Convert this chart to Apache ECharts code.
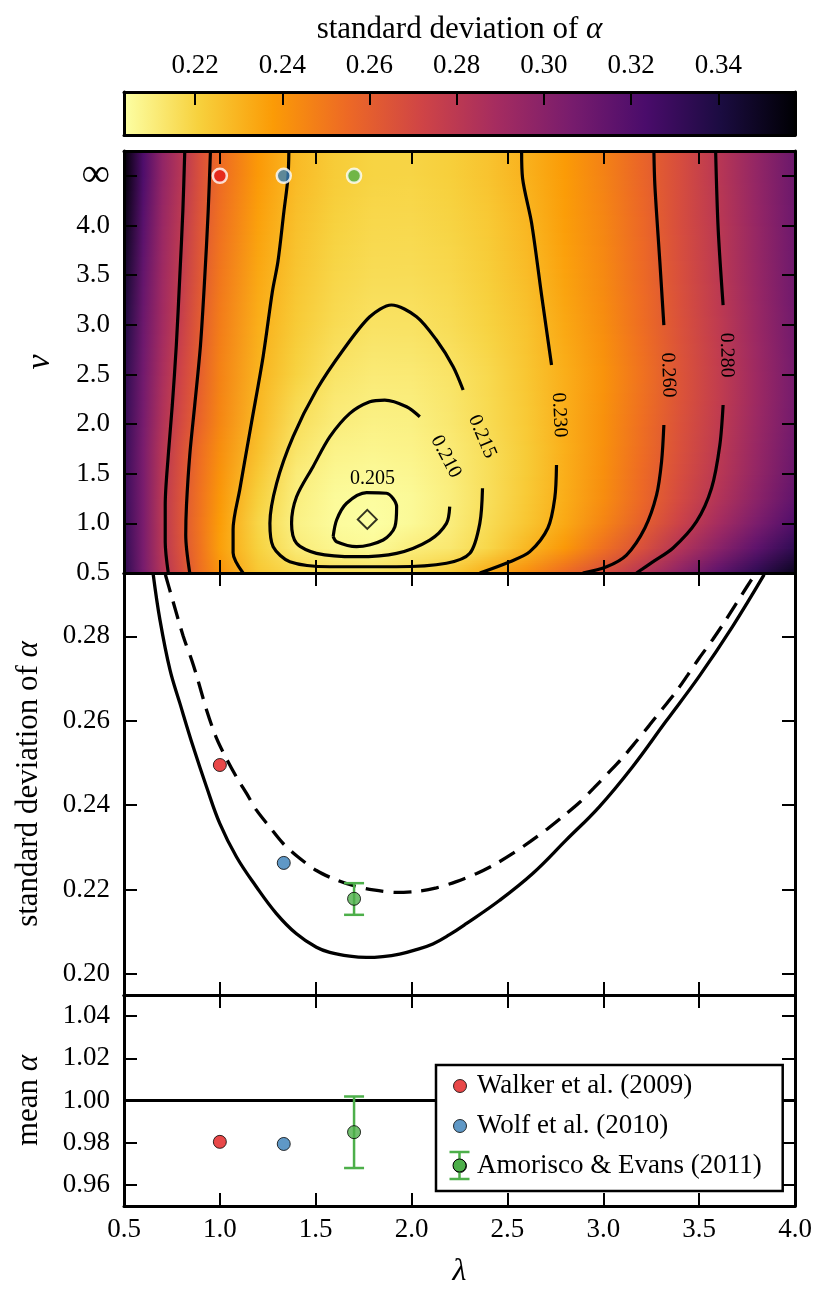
<!DOCTYPE html>
<html>
<head>
<meta charset="utf-8">
<title>standard deviation of alpha</title>
<script src="https://cdn.jsdelivr.net/npm/echarts@6.0.0/dist/echarts.min.js"></script>
<style>
    html, body { margin: 0; padding: 0; background: #fff; }
    #chart { width: 829px; height: 1306px; }
</style>
</head>
<body>
<div id="chart"></div>
<script>
var FONT = '"Liberation Serif", "DejaVu Serif", serif';

//colour scale of the map
var cbMin = 0.2037, cbMax = 0.3576;
var cbTicks = [0.22, 0.24, 0.26, 0.28, 0.30, 0.32, 0.34];

//map grid: lambda columns, nu rows (nu = 4.5 is the infinity row)
var lamNodes = [0.5, 0.6, 0.7, 0.8, 0.9, 1.0, 1.2, 1.4, 1.6, 1.8, 2.0, 2.2, 2.4, 2.6, 2.8, 3.0, 3.2, 3.4, 3.6, 3.8, 4.0];
var nuRows = [0.5, 0.75, 1.0, 1.25, 1.5, 1.75, 2.0, 2.25, 2.5, 3.0, 3.5, 4.0, 4.5];
var nuTicks = [0.5, 1.0, 1.5, 2.0, 2.5, 3.0, 3.5, 4.0, 4.5];

var sdNu050 = [0.334, 0.307, 0.2835, 0.268, 0.2525, 0.241, 0.224, 0.218, 0.216, 0.2154, 0.2172, 0.2225, 0.2325, 0.2422, 0.2545, 0.267, 0.2818, 0.2985, 0.316, 0.333, 0.350];
var sdNu075 = [0.332, 0.306, 0.282, 0.2655, 0.2512, 0.2365, 0.2205, 0.211, 0.2072, 0.2058, 0.2103, 0.2125, 0.2188, 0.229, 0.239, 0.2525, 0.2665, 0.2835, 0.2995, 0.316, 0.333];
var sdNu100 = [0.331, 0.306, 0.281, 0.2645, 0.2505, 0.2375, 0.219, 0.2088, 0.205, 0.2038, 0.2058, 0.2103, 0.2168, 0.2243, 0.2335, 0.2455, 0.259, 0.2738, 0.289, 0.305, 0.321];
var sdNu125 = [0.330, 0.306, 0.281, 0.265, 0.2515, 0.2392, 0.221, 0.21, 0.2054, 0.2046, 0.2058, 0.21, 0.2158, 0.2232, 0.2322, 0.2428, 0.2555, 0.2695, 0.2835, 0.299, 0.315];
var sdNu150 = [0.330, 0.306, 0.2815, 0.266, 0.2525, 0.2408, 0.2235, 0.211, 0.2068, 0.2058, 0.207, 0.2104, 0.216, 0.2228, 0.2318, 0.242, 0.2547, 0.2677, 0.2809, 0.296, 0.312];
var sdNu175 = [0.331, 0.306, 0.2825, 0.267, 0.2535, 0.2425, 0.2263, 0.2137, 0.2085, 0.2075, 0.2083, 0.2114, 0.2162, 0.2228, 0.2317, 0.2415, 0.2535, 0.2665, 0.2794, 0.2943, 0.310];
var sdNu200 = [0.332, 0.307, 0.2845, 0.2695, 0.2565, 0.245, 0.2282, 0.2158, 0.2106, 0.2088, 0.2092, 0.2125, 0.2172, 0.2232, 0.2318, 0.2413, 0.2531, 0.2659, 0.2783, 0.2931, 0.3085];
var sdNu225 = [0.333, 0.308, 0.286, 0.2708, 0.2578, 0.2458, 0.2292, 0.2178, 0.212, 0.2101, 0.2104, 0.2132, 0.2176, 0.2236, 0.2318, 0.2409, 0.2522, 0.2649, 0.2774, 0.2922, 0.3075];
var sdNu250 = [0.335, 0.309, 0.2875, 0.272, 0.259, 0.2465, 0.2303, 0.2202, 0.2138, 0.2114, 0.2117, 0.214, 0.218, 0.2243, 0.2318, 0.2405, 0.2518, 0.2645, 0.2772, 0.292, 0.3075];
var sdNu300 = [0.340, 0.311, 0.2905, 0.2755, 0.2605, 0.2485, 0.2318, 0.2228, 0.2172, 0.2145, 0.2146, 0.2167, 0.2203, 0.2254, 0.2339, 0.2426, 0.2535, 0.266, 0.2787, 0.2935, 0.3087];
var sdNu350 = [0.346, 0.314, 0.292, 0.2775, 0.2625, 0.2505, 0.2338, 0.2245, 0.219, 0.2167, 0.2166, 0.2183, 0.2218, 0.2274, 0.2357, 0.244, 0.2546, 0.267, 0.2798, 0.2946, 0.3098];
var sdNu400 = [0.352, 0.318, 0.294, 0.2795, 0.264, 0.2525, 0.236, 0.2262, 0.2205, 0.2182, 0.218, 0.2197, 0.2233, 0.2291, 0.237, 0.245, 0.2555, 0.2679, 0.2803, 0.2951, 0.3103];
var sdNuInf = [0.357, 0.322, 0.2968, 0.2818, 0.266, 0.2546, 0.2385, 0.228, 0.2224, 0.2198, 0.2195, 0.2214, 0.2252, 0.2308, 0.2378, 0.2463, 0.2567, 0.2681, 0.2812, 0.296, 0.311];
var sdRows = [sdNu050, sdNu075, sdNu100, sdNu125, sdNu150, sdNu175, sdNu200, sdNu225, sdNu250, sdNu300, sdNu350, sdNu400, sdNuInf];

//contour lines [lambda, nu]
var c280L = [[0.817, 4.75], [0.807, 4.15], [0.791, 3.485], [0.773, 2.796], [0.752, 2.192], [0.731, 1.688], [0.715, 1.185], [0.715, 0.812], [0.731, 0.5]];
var c260L = [[0.951, 4.75], [0.939, 4.138], [0.921, 3.471], [0.899, 2.796], [0.869, 2.192], [0.843, 1.688], [0.826, 1.185], [0.822, 0.883], [0.843, 0.5]];
var c230L = [[1.360, 4.75], [1.355, 4.478], [1.334, 4.14], [1.303, 3.637], [1.274, 3.335], [1.226, 2.684], [1.165, 2.013], [1.104, 1.342], [1.069, 0.939], [1.069, 0.704], [1.121, 0.5]];
var c215 = [[2.269, 2.343], [2.217, 2.578], [2.130, 2.846], [2.026, 3.081], [1.895, 3.199], [1.782, 3.081], [1.643, 2.746], [1.504, 2.343], [1.382, 1.873], [1.296, 1.403], [1.261, 1.0], [1.278, 0.765], [1.365, 0.614], [1.574, 0.563], [1.921, 0.563], [2.182, 0.598], [2.304, 0.698], [2.356, 1.0], [2.37, 1.353]];
var c210 = [[2.043, 2.074], [1.974, 2.175], [1.860, 2.242], [1.782, 2.225], [1.678, 2.108], [1.574, 1.873], [1.486, 1.571], [1.400, 1.268], [1.374, 1.0], [1.400, 0.799], [1.504, 0.698], [1.713, 0.664], [1.922, 0.698], [2.095, 0.832], [2.182, 1.0], [2.199, 1.168]];
var c205 = [[1.591, 0.866], [1.609, 1.034], [1.661, 1.202], [1.765, 1.309], [1.869, 1.303], [1.922, 1.168], [1.913, 0.966], [1.852, 0.832], [1.713, 0.765], [1.609, 0.815], [1.591, 0.866]];
var c230Rtop = [[2.574, 4.75], [2.579, 4.475], [2.626, 4.025], [2.678, 3.30], [2.730, 2.595]];
var c230Rbot = [[2.756, 1.588], [2.747, 1.255], [2.711, 0.953], [2.617, 0.715], [2.513, 0.614], [2.356, 0.5]];
var c260Rtop = [[3.264, 4.75], [3.269, 4.407], [3.295, 3.635], [3.316, 2.997]];
var c260Rbot = [[3.316, 1.990], [3.304, 1.621], [3.278, 1.286], [3.217, 0.953], [3.121, 0.681], [3.017, 0.563], [2.893, 0.5]];
var c280Rtop = [[3.586, 4.75], [3.599, 3.974], [3.625, 3.198]];
var c280Rbot = [[3.625, 2.192], [3.608, 1.789], [3.565, 1.356], [3.486, 1.017], [3.364, 0.752], [3.26, 0.614], [3.173, 0.5]];

var contourLabelText = ['0.205', '0.210', '0.215', '0.230', '0.260', '0.280'];
var contourLabelPos = [[1.796, 1.454], [2.179, 1.671], [2.368, 1.873], [2.77, 2.091], [3.338, 2.494], [3.643, 2.695]];
var contourLabelRot = [0, -62, -67, -87, -88, -89];

var bestFit = [1.769, 1.04];

//middle panel curves [lambda, sd]
var sdMinCurve = [[0.6526, 0.2946], [0.6875, 0.2839], [0.7396, 0.2721], [0.7917, 0.2641], [0.8609, 0.2538], [0.9307, 0.2443], [1.0, 0.2356], [1.087, 0.2277], [1.191, 0.2206], [1.295, 0.2143], [1.3995, 0.2095], [1.5036, 0.2063], [1.573, 0.2051], [1.677, 0.2042], [1.764, 0.2039], [1.85, 0.2041], [1.9375, 0.2047], [2.02, 0.2057], [2.111, 0.2071], [2.198, 0.2093], [2.285, 0.2119], [2.458, 0.2174], [2.632, 0.2238], [2.806, 0.2317], [2.979, 0.2396], [3.153, 0.2491], [3.326, 0.2598], [3.5, 0.2705], [3.674, 0.2823], [3.839, 0.2946]];
var sdInfCurve = [[0.716, 0.2946], [0.748, 0.2895], [0.809, 0.2800], [0.853, 0.2744], [0.88, 0.2705], [0.931, 0.2625], [0.983, 0.2558], [1.04, 0.2505], [1.09, 0.2464], [1.14, 0.2427], [1.191, 0.2388], [1.26, 0.2348], [1.33, 0.2309], [1.408, 0.2277], [1.504, 0.2245], [1.59, 0.2226], [1.69, 0.2210], [1.80, 0.2199], [1.92, 0.2193], [2.04, 0.2196], [2.13, 0.2204], [2.23, 0.2218], [2.34, 0.2238], [2.44, 0.2261], [2.53, 0.2286], [2.62, 0.2314], [2.71, 0.2344], [2.80, 0.2377], [2.88, 0.2408], [2.95, 0.2440], [3.03, 0.2478], [3.10, 0.2512], [3.17, 0.2550], [3.24, 0.2589], [3.31, 0.2629], [3.38, 0.2669], [3.44, 0.2708], [3.50, 0.2748], [3.57, 0.2792], [3.63, 0.2832], [3.69, 0.2875], [3.75, 0.2918], [3.79, 0.2946]];

//literature estimates
var refNames = ['Walker et al. (2009)', 'Wolf et al. (2010)', 'Amorisco & Evans (2011)'];
var refColors = ['#e41a1c', '#377eb8', '#4daf4a'];
var refLam = [1.0, 1.3333, 1.7];
var refSd = [0.2495, 0.2263, 0.2178];
var refMean = [0.9804, 0.9794, 0.9850];
var aeSdErr = [0.2140, 0.2215];
var aeMeanErr = [0.9680, 1.0019];
var nuInf = 4.5;
var meanRef = [[0.5, 1.0], [4.0, 1.0]];

var sdTicks = [0.20, 0.22, 0.24, 0.26, 0.28];
var meanTicks = [0.96, 0.98, 1.00, 1.02, 1.04];

//inferno colour map, reversed (low = light yellow)
var inferno = ['#000004', '#1b0c41', '#4a0c6b', '#781c6d', '#a52c60', '#cf4446', '#ed6925', '#fb9b06', '#f7d13d', '#fcffa4'];

function hexRgb(h) {
    return [parseInt(h.substr(1, 2), 16), parseInt(h.substr(3, 2), 16), parseInt(h.substr(5, 2), 16)];
}

function sdRgb(v) {
    var t = Math.max(0, Math.min(1, (v - cbMin) / (cbMax - cbMin)));
    var u = (1 - t) * (inferno.length - 1);
    var k = Math.min(Math.floor(u), inferno.length - 2);
    var f = u - k;
    var a = hexRgb(inferno[k]), b = hexRgb(inferno[k + 1]);
    return [0, 1, 2].map(function (i) { return a[i] + (b[i] - a[i]) * f; });
}

//shade between two colours (w = 0 gives a, w = 1 gives b)
function mixRgb(a, b, w) {
    var c = [0, 1, 2].map(function (i) { return Math.round(a[i] + (b[i] - a[i]) * w); });
    return 'rgb(' + c.join(',') + ')';
}

var lamMin = 0.5, lamMax = 4.0, nuMin = 0.5, nuMax = 4.75;

//axes: every panel has a frame with inward ticks on all four sides
var tickBase = { show: true, inside: true, length: 13, lineStyle: { color: '#000', width: 2 } };
var lineBase = { show: true, onZero: false, lineStyle: { color: '#000', width: 3 } };
var labelBase = { show: true, color: '#000', fontFamily: FONT, fontSize: 27 };

function axis(grid, pos, min, max, o) {
    o = o || {};
    var ax = {
        type: 'value', gridIndex: grid, position: pos, min: min, max: max, z: 10,
        axisLine: lineBase,
        axisTick: o.noTick ? { show: false } : Object.assign({}, tickBase, o.ticks ? { customValues: o.ticks } : {}),
        axisLabel: { show: false },
        splitLine: { show: false }
    };
    if (o.interval) ax.interval = o.interval;
    if (o.label) ax.axisLabel = Object.assign({}, labelBase, o.label, o.ticks ? { customValues: o.ticks } : {});
    if (o.name) {
        ax.name = o.name;
        ax.nameLocation = 'middle';
        ax.nameGap = o.nameGap;
        var size = o.nameSize || 31;
        ax.nameTextStyle = {
            color: '#000', fontFamily: FONT, fontSize: size, fontStyle: o.nameItalic ? 'italic' : 'normal',
            rich: { a: { color: '#000', fontFamily: FONT, fontSize: size, fontStyle: 'italic' } }
        };
    }
    return ax;
}

var fmt1 = function (v) { return v.toFixed(1); };
var fmt2 = function (v) { return v.toFixed(2); };

var xAxes = [
    axis(0, 'top', cbMin, cbMax, { ticks: cbTicks, label: { formatter: fmt2, margin: 13 }, name: 'standard deviation of {a|α}', nameGap: 47 }),
    axis(0, 'bottom', cbMin, cbMax, { noTick: true }),
    axis(1, 'bottom', lamMin, lamMax, { interval: 0.5 }),
    axis(1, 'top', lamMin, lamMax, { interval: 0.5 }),
    axis(2, 'bottom', lamMin, lamMax, { interval: 0.5 }),
    axis(2, 'top', lamMin, lamMax, { interval: 0.5 }),
    axis(3, 'bottom', lamMin, lamMax, { interval: 0.5, label: { formatter: fmt1, margin: 10 }, name: 'λ', nameItalic: true, nameGap: 50, nameSize: 32 }),
    axis(3, 'top', lamMin, lamMax, { interval: 0.5 })
];

var yAxes = [
    axis(0, 'left', 0, 1, { noTick: true }),
    axis(0, 'right', 0, 1, { noTick: true }),
    axis(1, 'left', nuMin, nuMax, {
        ticks: nuTicks, name: 'ν', nameItalic: true, nameGap: 67, nameSize: 34,
        label: {
            margin: 14,
            formatter: function (v) { return v === nuInf ? '{inf|∞}' : v.toFixed(1); },
            rich: { inf: { fontFamily: FONT, fontSize: 40, color: '#000' } }
        }
    }),
    axis(1, 'right', nuMin, nuMax, { ticks: nuTicks }),
    axis(2, 'left', 0.195, 0.295, { ticks: sdTicks, label: { formatter: fmt2, margin: 14 }, name: 'standard deviation of {a|α}', nameGap: 80 }),
    axis(2, 'right', 0.195, 0.295, { ticks: sdTicks }),
    axis(3, 'left', 0.95, 1.05, { ticks: meanTicks, label: { formatter: fmt2, margin: 14 }, name: 'mean {a|α}', nameGap: 80 }),
    axis(3, 'right', 0.95, 1.05, { ticks: meanTicks })
];

var grids = [
    { left: 124, right: 34, top: 92, height: 43 },
    { left: 124, right: 34, top: 151, height: 422 },
    { left: 124, right: 34, top: 573, height: 422 },
    { left: 124, right: 34, top: 995, height: 211 }
];

function contourSeries(data) {
    return {
        type: 'line', xAxisIndex: 2, yAxisIndex: 2, data: data, smooth: 0.3, symbol: 'none', silent: true, z: 3,
        lineStyle: { color: '#000', width: 3.2 }
    };
}

function errorBarSeries(xi, yi, lam, err) {
    return {
        type: 'custom', xAxisIndex: xi, yAxisIndex: yi, z: 4, silent: true,
        data: [[lam, err[0], err[1]]],
        renderItem: function (params, api) {
            var top = api.coord([api.value(0), api.value(2)]);
            var bot = api.coord([api.value(0), api.value(1)]);
            var w = 10;
            var st = { stroke: refColors[2], lineWidth: 2.5 };
            return {
                type: 'group', children: [
                    { type: 'line', shape: { x1: top[0], y1: top[1], x2: bot[0], y2: bot[1] }, style: st },
                    { type: 'line', shape: { x1: top[0] - w, y1: top[1], x2: top[0] + w, y2: top[1] }, style: st },
                    { type: 'line', shape: { x1: bot[0] - w, y1: bot[1], x2: bot[0] + w, y2: bot[1] }, style: st }
                ]
            };
        }
    };
}

function refPoints(yValues) {
    return yValues.map(function (v, i) {
        return { value: [refLam[i], v], itemStyle: { color: refColors[i] } };
    });
}

var series = [];

//colour bar
series.push({
    type: 'custom', xAxisIndex: 0, yAxisIndex: 0, silent: true, z: 1,
    data: [[cbMin, 0]],
    renderItem: function (params, api) {
        var p0 = api.coord([cbMin, 1]);
        var p1 = api.coord([cbMax, 0]);
        var stops = inferno.map(function (c, k) { return { offset: k / (inferno.length - 1), color: inferno[inferno.length - 1 - k] }; });
        return {
            type: 'rect', shape: { x: p0[0], y: p0[1], width: p1[0] - p0[0], height: p1[1] - p0[1] },
            style: { fill: new echarts.graphic.LinearGradient(0, 0, 1, 0, stops) }
        };
    }
});

//map: each band runs from one nu row to the next, coloured along lambda and shaded between the two rows
series.push({
    type: 'custom', xAxisIndex: 2, yAxisIndex: 2, silent: true, z: 1,
    data: nuRows.map(function (nu, i) { return [lamMin, nu, i]; }),
    renderItem: function (params, api) {
        var i = params.dataIndex;
        var last = nuRows.length - 1;
        var lo = nuRows[i];
        var hi = i < last ? nuRows[i + 1] : nuMax;
        var rowLo = sdRows[i].map(sdRgb);
        var rowHi = sdRows[Math.min(i + 1, last)].map(sdRgb);
        var pTop = api.coord([lamMin, hi]);
        var pBot = api.coord([lamMax, lo]);
        var h = pBot[1] - pTop[1];
        var n = Math.max(1, Math.ceil(h / 2));
        var children = [];
        for (var s = 0; s < n; s++) {
            var w = (s + 0.5) / n;
            var stops = lamNodes.map(function (l, j) {
                return { offset: (l - lamMin) / (lamMax - lamMin), color: mixRgb(rowHi[j], rowLo[j], w) };
            });
            children.push({
                type: 'rect',
                shape: { x: pTop[0], y: pTop[1] + s * h / n - 0.5, width: pBot[0] - pTop[0], height: h / n + 1 },
                style: { fill: new echarts.graphic.LinearGradient(0, 0, 1, 0, stops) }
            });
        }
        return { type: 'group', children: children };
    }
});

[c280L, c260L, c230L, c215, c210, c205, c230Rtop, c230Rbot, c260Rtop, c260Rbot, c280Rtop, c280Rbot].forEach(function (c) {
    series.push(contourSeries(c));
});

//contour labels
series.push({
    type: 'custom', xAxisIndex: 2, yAxisIndex: 2, silent: true, z: 4,
    data: contourLabelPos,
    renderItem: function (params, api) {
        var i = params.dataIndex;
        var p = api.coord([api.value(0), api.value(1)]);
        return {
            type: 'text', x: p[0], y: p[1], rotation: contourLabelRot[i] * Math.PI / 180,
            style: {
                text: contourLabelText[i], fill: '#000', fontFamily: FONT, fontSize: 20,
                align: 'center', verticalAlign: 'middle', textAlign: 'center', textVerticalAlign: 'middle'
            }
        };
    }
});

series.push({
    type: 'scatter', xAxisIndex: 2, yAxisIndex: 2, silent: true, z: 5,
    data: [bestFit], symbol: 'diamond', symbolSize: 19,
    itemStyle: { color: 'rgba(0,0,0,0)', borderColor: '#000', borderWidth: 2 }
});

series.push({
    type: 'scatter', xAxisIndex: 2, yAxisIndex: 2, silent: true, z: 5,
    data: refPoints(refLam.map(function () { return nuInf; })), symbolSize: 14,
    itemStyle: { borderColor: '#fff', borderWidth: 2.5 }
});

//middle panel
series.push({
    type: 'line', xAxisIndex: 4, yAxisIndex: 4, data: sdMinCurve, smooth: 0.4, symbol: 'none', silent: true, z: 3,
    lineStyle: { color: '#000', width: 3.3 }
});
series.push({
    type: 'line', xAxisIndex: 4, yAxisIndex: 4, data: sdInfCurve, smooth: 0.3, symbol: 'none', silent: true, z: 3,
    lineStyle: { color: '#000', width: 3.3, type: [18, 10] }
});
series.push(errorBarSeries(4, 4, refLam[2], aeSdErr));
series.push({
    type: 'scatter', xAxisIndex: 4, yAxisIndex: 4, silent: true, z: 5,
    data: refPoints(refSd), symbolSize: 13,
    itemStyle: { borderColor: '#000', borderWidth: 1 }
});

//bottom panel
series.push({
    type: 'line', xAxisIndex: 6, yAxisIndex: 6, data: meanRef, symbol: 'none', silent: true, z: 2,
    lineStyle: { color: '#000', width: 3 }
});
series.push(errorBarSeries(6, 6, refLam[2], aeMeanErr));
refNames.forEach(function (n, i) {
    series.push({
        type: 'scatter', name: n, xAxisIndex: 6, yAxisIndex: 6, silent: true, z: 5,
        data: [[refLam[i], refMean[i]]], symbolSize: 13,
        itemStyle: { color: refColors[i], borderColor: '#000', borderWidth: 1 }
    });
});

var legendBar = { stroke: refColors[2], lineWidth: 2.5 };

var chart = echarts.init(document.getElementById('chart'));
chart.setOption({
    animation: false,
    backgroundColor: '#fff',
    textStyle: { fontFamily: FONT },
    grid: grids,
    xAxis: xAxes,
    yAxis: yAxes,
    legend: {
        orient: 'vertical', left: 436, top: 1065,
        padding: [6, 21, 10, 17], itemGap: 10, itemWidth: 24, itemHeight: 13,
        backgroundColor: '#fff', borderColor: '#000', borderWidth: 2.5, borderRadius: 0,
        selectedMode: false,
        textStyle: { color: '#000', fontFamily: FONT, fontSize: 27, lineHeight: 30 },
        data: refNames.map(function (n, i) {
            return { name: n, icon: 'circle', itemStyle: { color: refColors[i], borderColor: '#000', borderWidth: 1 } };
        })
    },
    //error-bar glyph for the Amorisco & Evans legend entry
    graphic: [
        { type: 'line', z: 100, silent: true, shape: { x1: 459.5, y1: 1152, x2: 459.5, y2: 1179 }, style: legendBar },
        { type: 'line', z: 100, silent: true, shape: { x1: 449.5, y1: 1152, x2: 469.5, y2: 1152 }, style: legendBar },
        { type: 'line', z: 100, silent: true, shape: { x1: 449.5, y1: 1179, x2: 469.5, y2: 1179 }, style: legendBar },
        { type: 'circle', z: 101, silent: true, shape: { cx: 459.5, cy: 1165.5, r: 6.5 }, style: { fill: refColors[2], stroke: '#000', lineWidth: 1 } }
    ],
    series: series
});
</script>
</body>
</html>
